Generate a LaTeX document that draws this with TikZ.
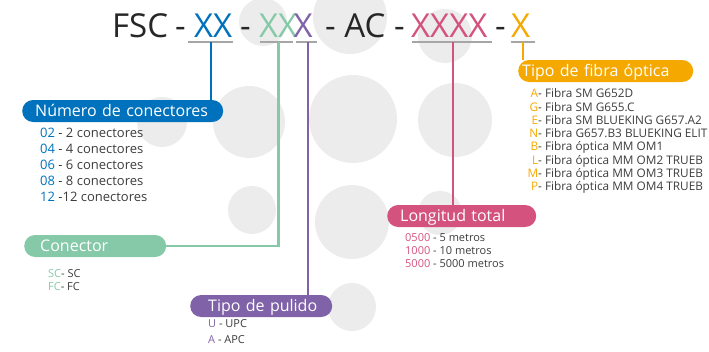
\documentclass[tikz,border=0pt]{standalone}
\usepackage{fontspec}
\setmainfont{Open Sans}
\usetikzlibrary{positioning,calc}
\definecolor{cblue}{HTML}{0071BC}
\definecolor{cgreen}{HTML}{86C9A9}
\definecolor{cpurple}{HTML}{7F62A8}
\definecolor{cpink}{HTML}{D4537E}
\definecolor{corange}{HTML}{F5A800}
\definecolor{cgray}{HTML}{A6A6A6}
\definecolor{cbg}{HTML}{ECECEC}
\definecolor{ctext}{HTML}{3C3C3C}
\definecolor{ctitle}{HTML}{262626}

\begin{document}
\begin{tikzpicture}[x=1pt, y=-1pt, every node/.style={inner sep=0pt},
  title/.style={font=\fontsize{33}{33}\selectfont, anchor=base west, text=ctitle},
  pill/.style={rounded corners=11pt, minimum height=22pt, anchor=west, text=white, align=left, font=\fontsize{16}{16}\selectfont, text height=11.5pt, text depth=0pt, inner ysep=0pt},
  item/.style={anchor=base west, text=ctext, font=\fontsize{11}{11}\selectfont},
  uline/.style={line width=2.4pt, cgray},
  link/.style={line width=2.2pt}]
\useasboundingbox (0,0) rectangle (709,351);
% background dots
\foreach \x/\y/\r in {263/22/24, 350/17/37, 445/36/27, 162/122/25, 249/122/36, 353/119/44, 455/120/37, 252/210/24, 352/222/37, 440/213/22, 352/307/24}
  \fill[cbg] (\x,\y) circle (\r pt);
% code
\node[title] (fsc) at (112,37) {FSC};
\node[title] (d1) at (175,37) {-};
\node[title, text=cblue] (nxx) at (194,37) {XX};
\node[title] (d2) at (240,37) {-};
\node[title, text=cgreen] (cxx) at (259,37) {XX};
\node[title, text=cpurple] (px) at (293.5,37) {X};
\node[title] (ac) at (325,37) {- AC -};
\node[title, text=cpink] (lxxxx) at (411,37) {XXXX};
\node[title] (d5) at (495,37) {-};
\node[title, text=corange] (fx) at (511,37) {X};
\draw[uline] (188,41.8) -- (233,41.8);
\draw[uline] (260,41.8) -- (293,41.8);
\draw[uline] (296,41.8) -- (317,41.8);
\draw[uline] (412,41.8) -- (492,41.8);
\draw[uline] (511,41.8) -- (535,41.8);
\coordinate (ublue) at (211,41.8);
\coordinate (ugreen) at (278.5,41.8);
\coordinate (upurple) at (308,41.8);
\coordinate (upink) at (453,41.8);
\coordinate (uorange) at (523,41.8);
% boxes
\node[pill, fill=cblue, text width=175pt, inner xsep=13pt] (nbox) at (22,111) {\mbox{Número de conectores}};
\node[pill, fill=cgreen, text width=110pt, inner xsep=16pt] (cbox) at (24,246) {\mbox{Conector}};
\node[pill, fill=cpurple, text width=106pt, inner xsep=18pt] (pbox) at (190,306) {\mbox{Tipo de pulido}};
\node[pill, fill=cpink, text width=123pt, inner xsep=13pt] (lbox) at (387,216) {\mbox{Longitud total}};
\node[pill, fill=corange, text width=167pt, inner xsep=4pt] (fbox) at (518,71) {\mbox{Tipo de fibra óptica}};
\draw[link, cblue] (ublue) -- (nbox.north -| ublue);
\draw[link, cgreen] (ugreen) |- (cbox.east);
\draw[link, cpurple] (upurple) -- (pbox.north -| upurple);
\draw[link, cpink] (upink) -- (lbox.north -| upink);
\draw[link, corange] (uorange) -- (fbox.north -| uorange);
% lists
\foreach \c/\t [count=\i] in {02/- 2 conectores, 04/- 4 conectores, 06/- 6 conectores, 08/- 8 conectores, 12/-12 conectores}
  \node[item, font=\fontsize{13}{13}\selectfont] (nc\i) at (40,{137.3+16*(\i-1)}) {\textcolor{cblue}{\c} \t};
\foreach \c/\t [count=\i] in {SC/SC, FC/FC}
  \node[item] (cc\i) at (48,{277.3+13.4*(\i-1)}) {\textcolor{cgreen}{\c}- \t};
\foreach \c/\t [count=\i] in {U/UPC, A/APC}
  \node[item] (pc\i) at (208,{327.7+15.6*(\i-1)}) {\textcolor{cpurple}{\c} - \t};
\foreach \c/\t [count=\i] in {0500/5 metros, 1000/10 metros, 5000/5000 metros}
  \node[item] (lc\i) at (405,{241.7+13*(\i-1)}) {\textcolor{cpink}{\c} - \t};
\foreach \c/\t [count=\i] in {A/Fibra SM G652D, G/Fibra SM G655.C, E/Fibra SM BLUEKING G657.A2, N/Fibra G657.B3 BLUEKING ELIT, B/Fibra óptica MM OM1, L/Fibra óptica MM OM2 TRUEB, M/Fibra óptica MM OM3 TRUEB, P/Fibra óptica MM OM4 TRUEB}
  \node[item, font=\fontsize{11.8}{11.8}\selectfont] (fc\i) at (529,{97.7+13.3*(\i-1)}) {\makebox[9pt][r]{\textcolor{corange}{\c}}- \t};
\end{tikzpicture}
\end{document}
